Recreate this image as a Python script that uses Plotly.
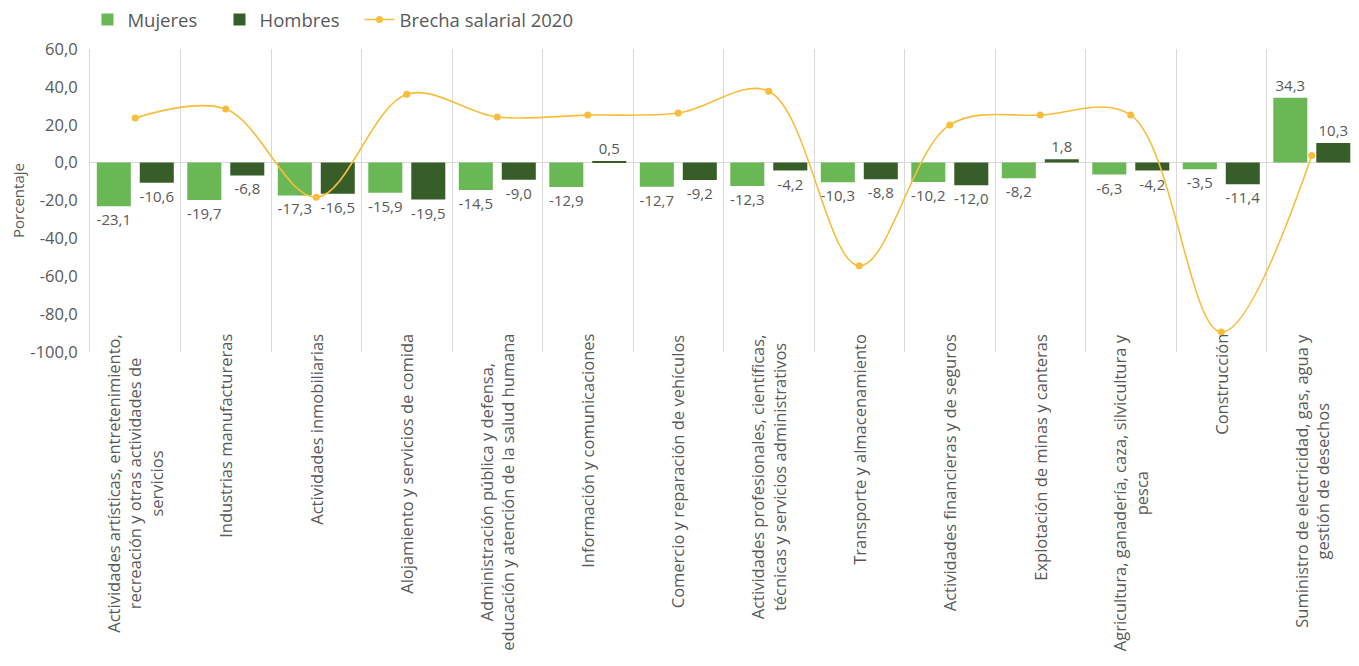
import plotly.graph_objects as go

categories = [
    "Actividades artísticas, entretenimiento,<br>recreación y otras actividades de<br>servicios",
    "Industrias manufactureras",
    "Actividades inmobiliarias",
    "Alojamiento y servicios de comida",
    "Administración pública y defensa,<br>educación y atención de la salud humana",
    "Información y comunicaciones",
    "Comercio y reparación de vehículos",
    "Actividades profesionales, científicas,<br>técnicas y servicios administrativos",
    "Transporte y almacenamiento",
    "Actividades financieras y de seguros",
    "Explotación de minas y canteras",
    "Agricultura, ganadería, caza, silvicultura y<br>pesca",
    "Construcción",
    "Suministro de electricidad, gas, agua y<br>gestión de desechos",
]
mujeres = [-23.1, -19.7, -17.3, -15.9, -14.5, -12.9, -12.7, -12.3, -10.3, -10.2, -8.2, -6.3, -3.5, 34.3]
hombres = [-10.6, -6.8, -16.5, -19.5, -9.0, 0.5, -9.2, -4.2, -8.8, -12.0, 1.8, -4.2, -11.4, 10.3]
brecha = [23.6, 28.3, -18.3, 36.1, 24.1, 25.1, 26.2, 37.7, -54.5, 19.9, 25.1, 25.1, -89.5, 3.7]
y_ticks = [60, 40, 20, 0, -20, -40, -60, -80, -100]

FONT = "Open Sans"
GREY = "#595959"


def fmt(v):
    return f"{v:.1f}".replace(".", ",")


fig = go.Figure()
fig.add_trace(go.Bar(
    name="Mujeres", x=categories, y=mujeres, legend="legend",
    marker=dict(color="#6AB756", line=dict(width=0)),
    width=0.376, offset=-0.425,
    text=[fmt(v) for v in mujeres], textposition="outside",
    textfont=dict(family=FONT, size=15, color=GREY),
    constraintext="none", cliponaxis=False,
))
fig.add_trace(go.Bar(
    name="Hombres", x=categories, y=hombres, legend="legend2",
    marker=dict(color="#375E29", line=dict(width=0)),
    width=0.376, offset=0.05,
    text=[fmt(v) for v in hombres], textposition="outside",
    textfont=dict(family=FONT, size=15, color=GREY),
    constraintext="none", cliponaxis=False,
))
fig.add_trace(go.Scatter(
    name="Brecha salarial 2020", x=categories, y=brecha, legend="legend3",
    mode="lines+markers",
    line=dict(color="#F8BD3A", width=1.6, shape="spline", smoothing=1),
    marker=dict(color="#F8BD3A", size=7),
    cliponaxis=False,
))

for c in categories:
    fig.add_annotation(
        x=c, xref="x", y=0, yref="paper", yanchor="top", xanchor="center",
        yshift=20, text=c, textangle=-90, align="center", showarrow=False,
        font=dict(family=FONT, size=16.5, color=GREY),
    )

legend_common = dict(orientation="h", yref="container", y=0.982, yanchor="middle",
                     xanchor="left", font=dict(family=FONT, size=18.5, color=GREY),
                     itemwidth=30, bgcolor="rgba(0,0,0,0)")

fig.update_layout(
    width=1359, height=666,
    margin=dict(l=82, r=10, t=37, b=322),
    plot_bgcolor="white", paper_bgcolor="white",
    font=dict(family=FONT, color=GREY),
    barmode="group",
    showlegend=True,
    legend=dict(x=-0.002, **legend_common),
    legend2=dict(x=0.1022, **legend_common),
    legend3=dict(x=0.2127, **legend_common),
    xaxis=dict(
        type="category", showticklabels=False, tickson="boundaries",
        range=[-0.5, 13.5],
        showgrid=True, gridcolor="#D9D9D9", gridwidth=1,
        showline=False, zeroline=False, ticks="",
    ),
    yaxis=dict(
        range=[-100, 60], tickvals=y_ticks, ticktext=[fmt(v) for v in y_ticks],
        showgrid=False, zeroline=True, zerolinecolor="#D9D9D9", zerolinewidth=1,
        showline=True, linecolor="#D9D9D9", linewidth=1,
        tickfont=dict(family=FONT, size=16.5, color=GREY),
        ticks="", ticklabelstandoff=8,
        title=dict(text="Porcentaje", font=dict(family=FONT, size=15, color=GREY), standoff=12),
        automargin=False,
    ),
)

fig.write_html("out.html")
